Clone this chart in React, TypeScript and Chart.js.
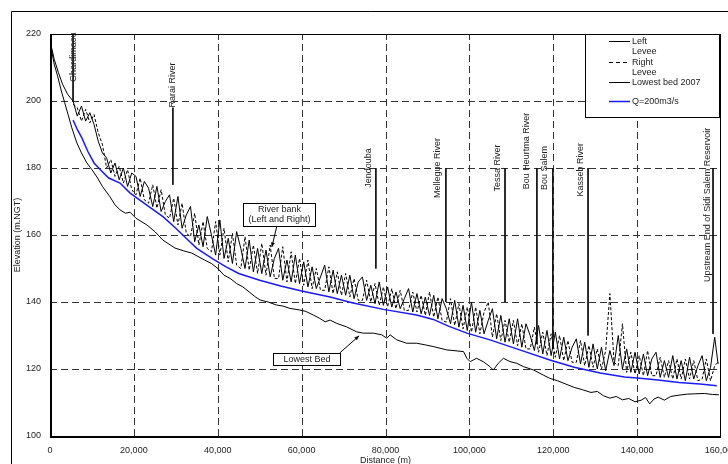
import React, { useEffect, useRef } from "react";
import { Chart, registerables } from "chart.js";

Chart.register(...registerables);

const FONT = '"Liberation Sans", Arial, sans-serif';

const xTicks = [0, 20000, 40000, 60000, 80000, 100000, 120000, 140000, 160000];
const yTicks = [100, 120, 140, 160, 180, 200, 220];

const bedDistance = [
  0, 400, 1000, 1800, 2700, 3500, 4300, 5200, 6400, 7500,
  8800, 10000, 11200, 12500, 14300, 15500, 16700, 18000, 19100, 20500,
  23100, 25000, 26900, 29800, 31800, 33800, 36900, 38500, 40000, 41500,
  43000, 44500, 46000, 47500, 49000, 50100, 52000, 54000, 55500, 57200,
  59600, 61000, 62800, 64200, 65600, 66800, 68400, 70700, 73100, 74700,
  77100, 79100, 80300, 81100, 82700, 85000, 87400, 89500, 91400, 94600,
  98600, 99400, 100200, 101700, 103300, 104900, 105700, 106900, 108100, 109700,
  111300, 112900, 115300, 117600, 119200, 121000, 123000, 125000, 127000, 129000,
  130500, 132000, 133500, 135000, 136500, 138000, 139500, 141000, 142000, 143000,
  144000, 145000, 146500, 148000, 150000, 152000, 154000, 156000, 158000, 159500,
];
const bedElevation = [
  218, 215, 211, 207.5, 203, 199.5, 196, 192, 187.5, 184.5,
  181.5, 179.5, 177.3, 174.5, 171.4, 169, 167.5, 166.5, 166.8, 165,
  163, 161, 158.5, 156.1, 155.3, 154.6, 152.5, 151.5, 150, 148,
  147, 145.5, 144.5, 143, 141.5, 140.6, 140, 139.1, 138.8, 138.1,
  137.6, 137.2, 136.1, 135.2, 134.1, 134.6, 133.6, 132.6, 131.1, 130.7,
  130.7, 130.2, 129.2, 130.2, 128.7, 127.7, 127.7, 127.2, 126.7, 125.7,
  125.2, 123.2, 122.2, 123.2, 122.2, 120.7, 119.7, 121.7, 123.2, 122.2,
  121.7, 120.7, 119.7, 118.2, 117.2, 116.5, 115.5, 114.5, 113.8, 113,
  113.3, 112, 111.3, 111.8, 110.8, 111.2, 110.2, 110.7, 111.5, 109.6,
  111, 111.6, 110.7, 111.8, 112.2, 112.5, 112.6, 112.7, 112.4, 112.3,
];

const upstreamLeveeDistance = [0, 1000, 2000, 3000, 4200];
const upstreamLeftLevee = [218, 212.5, 208.5, 205, 202];

const leveeDistance = [
  5500, 6500, 7500, 8500, 9500, 10500, 11500,
  12500, 13500, 14500, 15500, 16500, 17500, 18500, 19500,
  20500, 21500, 22500, 23500, 24500, 25500, 26500, 27500, 28500, 29500,
  30500, 31500, 32500, 33500, 34500, 35500, 36500, 37500, 38500, 39500,
  40500, 41500, 42500, 43500, 44500, 45500, 46500, 47500, 48500, 49500,
  50500, 51500, 52500, 53500, 54500, 55500, 56500, 57500, 58500, 59500,
  60500, 61500, 62500, 63500, 64500, 65500, 66500, 67500, 68500, 69500,
  70500, 71500, 72500, 73500, 74500, 75500, 76500, 77500, 78500, 79500,
  80500, 81500, 82500, 83500, 84500, 85500, 86500, 87500, 88500, 89500,
  90500, 91500, 92500, 93500, 94500, 95500, 96500, 97500, 98500, 99500,
  100500, 101500, 102500, 103500, 104500, 105500, 106500, 107500, 108500, 109500,
  110500, 111500, 112500, 113500, 114500, 115500, 116500, 117500, 118500, 119500,
  120500, 121500, 122500, 123500, 124500, 125500, 126500, 127500, 128500, 129500,
  130500, 131500, 132500, 133500, 134500, 135500, 136500, 137500, 138500, 139500,
  140500, 141500, 142500, 143500, 144500, 145500, 146500, 147500, 148500, 149500,
  150500, 151500, 152500, 153500, 154500, 155500, 156500, 157500, 158500, 159300,
];
const leftLevee = [
  200, 195.5, 198.5, 194, 196.5, 193, 188,
  184.5, 183, 178.5, 181.5, 176.5, 180, 174.5, 178.5,
  177.5, 171.5, 176, 174, 168.5, 174.5, 167, 170, 172, 164,
  171.5, 162, 166, 168.5, 158, 163, 156.5, 165.5, 160, 154,
  164.5, 153, 159, 151.5, 161, 156, 150, 158.5, 149, 156,
  148.5, 155.5, 147.5, 153, 156, 146.5, 152.5, 146, 154, 145.5,
  152, 144.5, 150.5, 144, 147.5, 151, 143, 149.5, 142.5, 148,
  142, 148, 141, 146, 147.5, 140.5, 145, 139.5, 146, 139,
  144.5, 138.5, 143, 138, 141, 144, 137, 142.5, 136.5, 141.5,
  136, 142, 135, 141, 138, 133.5, 140.5, 132.5, 139, 131.5,
  140, 131, 137.5, 130.5, 134.5, 138, 129, 136, 128, 135,
  127.5, 135, 126.5, 133.5, 130, 125.5, 133, 124.5, 131.5, 124,
  131, 123, 129.5, 122.5, 126.5, 129, 121.5, 128, 120.5, 127.5,
  120, 126.5, 119.5, 125.5, 121, 130, 120, 126, 119, 125,
  118.5, 124.5, 118, 123, 125, 117.5, 122.5, 117.5, 124, 117,
  122.5, 116.5, 123.5, 117, 121, 124, 116.5, 120.5, 129.5, 121.5,
];
const rightLevee = [
  199, 198, 194, 197.5, 193.5, 196, 190.5,
  187, 180, 182.5, 177.5, 180.5, 175.5, 179.5, 173.5,
  172, 177, 170.5, 169.5, 175, 168, 173.5, 166, 165, 171,
  163, 169.5, 160.5, 159.5, 166.5, 157, 164, 156, 155, 164,
  154, 162, 152, 160.5, 151, 150, 159.5, 149.5, 157, 148.5,
  157.5, 148, 157, 147, 147, 156.5, 146, 155, 145.5, 153,
  145, 152.5, 144, 150, 143.5, 143.5, 150.5, 142.5, 149, 142,
  148.5, 141.5, 147, 140.5, 140.5, 146.5, 140, 145.5, 139, 144.5,
  138.5, 144, 138, 143.5, 137.5, 137.5, 143, 137, 142, 136,
  143, 135.5, 141.5, 134.5, 134, 141, 133, 139.5, 132, 138.5,
  131, 138.5, 130.5, 137, 140, 129.5, 136.5, 128.5, 134.5, 128,
  134.5, 127, 133.5, 126, 126, 132.5, 125, 131, 124, 130.5,
  123.5, 130, 122.5, 128.5, 122, 122, 128.5, 121, 127, 120.5,
  126, 120, 125.5, 142.5, 122, 121, 133.5, 119, 125, 118.5,
  124, 118, 125.5, 118, 118, 123.5, 117.5, 122.5, 117, 123,
  117, 123, 117, 122.5, 116.5, 117, 123, 116.5, 121, 122,
];

const flowDistance = [
  5500, 6500, 7600, 9000, 10500, 12000, 14000, 16700, 19100, 23000,
  27000, 30000, 32900, 35000, 38900, 42000, 45000, 50000, 55000, 60000,
  66800, 72000, 79500, 87400, 91400, 95000, 99400, 104900, 112000, 119200,
  121600, 125000, 131200, 137000, 140000, 145000, 150000, 155000, 159000,
];
const flowElevation = [
  194.3, 191.5, 189, 185, 181.5, 179.5, 177, 175.5, 172.5, 169,
  165.4, 162, 158.5, 156, 152.8, 150.5, 148.5, 146.5, 144.8, 143.3,
  141.5, 139.8, 137.8, 136.1, 134.8, 132.8, 130.7, 128.7, 125.7, 122.7,
  121.8, 120.5, 118.8, 117.6, 117.3, 116.7, 116, 115.5, 115,
];

const placeNames = [
  "Ghardimaou", "Rarai River", "Jendouba", "Mellegue River", "Tessa River",
  "Bou Heurtma River", "Bou Salem", "Kasseb River", "Upstream End of Sidi Salem Reservoir",
];
const placeDistance = [5500, 29300, 77700, 94400, 108500, 116100, 119900, 128300, 158100];
const placeLineTop = [220, 198, 180, 180, 180, 180, 180, 180, 180];
const placeLineBottom = [200, 175, 150, 140, 140, 127.5, 126, 130, 130.5];
const placeLabelDistance = [5500, 29300, 76000, 92300, 106600, 113700, 118000, 126600, 156700];
const placeLabelElevation = [213.1, 204.8, 180, 180, 180, 185.1, 180, 179.5, 169];

const calloutLines = [["River bank", "(Left and Right)"], ["Lowest Bed"]];
const calloutLeft = [46000, 53200];
const calloutRight = [63200, 69100];
const calloutTop = [169.6, 124.8];
const calloutBottom = [162.7, 121.2];
const arrowFromX = [54100, 69100];
const arrowFromY = [162.7, 124.8];
const arrowToX = [52900, 73700];
const arrowToY = [156.4, 129.9];

const pts = (xs: number[], ys: number[]) => xs.map((x, i) => ({ x, y: ys[i] }));

const drawArrow = (ctx: CanvasRenderingContext2D, x1: number, y1: number, x2: number, y2: number) => {
  ctx.beginPath();
  ctx.moveTo(x1, y1);
  ctx.lineTo(x2, y2);
  ctx.stroke();
  const ang = Math.atan2(y2 - y1, x2 - x1);
  const len = 5;
  ctx.beginPath();
  ctx.moveTo(x2, y2);
  ctx.lineTo(x2 - len * Math.cos(ang - 0.4), y2 - len * Math.sin(ang - 0.4));
  ctx.lineTo(x2 - len * Math.cos(ang + 0.4), y2 - len * Math.sin(ang + 0.4));
  ctx.closePath();
  ctx.fill();
};

const decorPlugin = {
  id: "decor",
  beforeDraw(chart: any) {
    const { ctx, width, height } = chart;
    ctx.save();
    ctx.fillStyle = "#fff";
    ctx.fillRect(0, 0, width, height);
    ctx.strokeStyle = "#000";
    ctx.lineWidth = 1;
    ctx.beginPath();
    ctx.moveTo(11.5, height + 5);
    ctx.lineTo(11.5, 11.5);
    ctx.lineTo(width + 5, 11.5);
    ctx.stroke();
    ctx.restore();
  },
  beforeDatasetsDraw(chart: any) {
    const { ctx, chartArea: a, scales } = chart;
    const xs = scales.x;
    const ys = scales.y;
    ctx.save();
    ctx.strokeStyle = "#333";
    ctx.lineWidth = 1;
    ctx.setLineDash([7, 4]);
    xTicks.slice(1, -1).forEach((v) => {
      const px = Math.round(xs.getPixelForValue(v)) + 0.5;
      ctx.beginPath();
      ctx.moveTo(px, a.bottom);
      ctx.lineTo(px, a.top);
      ctx.stroke();
    });
    yTicks.slice(1, -1).forEach((v) => {
      const py = Math.round(ys.getPixelForValue(v)) + 0.5;
      ctx.beginPath();
      ctx.moveTo(a.left, py);
      ctx.lineTo(a.right, py);
      ctx.stroke();
    });
    ctx.restore();
  },
  afterDatasetsDraw(chart: any) {
    const { ctx, chartArea: a, scales } = chart;
    const xs = scales.x;
    const ys = scales.y;
    ctx.save();
    ctx.font = `9px ${FONT}`;
    ctx.fillStyle = "#222";
    ctx.textAlign = "center";
    ctx.textBaseline = "middle";
    placeNames.forEach((name, i) => {
      const px = xs.getPixelForValue(placeLabelDistance[i]);
      const py = ys.getPixelForValue(placeLabelElevation[i]);
      ctx.save();
      ctx.translate(px, py);
      ctx.rotate(-Math.PI / 2);
      ctx.fillText(name, 0, 0);
      ctx.restore();
    });
    ctx.strokeStyle = "#000";
    ctx.fillStyle = "#000";
    ctx.lineWidth = 1;
    calloutLines.forEach((lines, i) => {
      const l = Math.round(xs.getPixelForValue(calloutLeft[i])) + 0.5;
      const r = Math.round(xs.getPixelForValue(calloutRight[i])) + 0.5;
      const t = Math.round(ys.getPixelForValue(calloutTop[i])) + 0.5;
      const b = Math.round(ys.getPixelForValue(calloutBottom[i])) + 0.5;
      ctx.fillStyle = "#fff";
      ctx.fillRect(l, t, r - l, b - t);
      ctx.strokeRect(l, t, r - l, b - t);
      ctx.fillStyle = "#222";
      const cy = (t + b) / 2;
      lines.forEach((s, k) => {
        ctx.fillText(s, (l + r) / 2, cy + (k - (lines.length - 1) / 2) * 10);
      });
      ctx.fillStyle = "#000";
      drawArrow(
        ctx,
        xs.getPixelForValue(arrowFromX[i]),
        ys.getPixelForValue(arrowFromY[i]),
        xs.getPixelForValue(arrowToX[i]),
        ys.getPixelForValue(arrowToY[i])
      );
    });
    const lx = a.right - 136;
    const ly = a.top;
    ctx.fillStyle = "#fff";
    ctx.fillRect(lx + 0.5, ly + 0.5, 134, 83);
    ctx.strokeStyle = "#000";
    ctx.strokeRect(lx + 0.5, ly + 0.5, 134, 83);
    const sx1 = lx + 24;
    const sx2 = lx + 45;
    const tx = lx + 47;
    const rows: [number, string, number[], string[]][] = [
      [7, "#000", [], ["Left", "Levee"]],
      [28, "#000", [4, 3], ["Right", "Levee"]],
      [48, "#000", [], ["Lowest bed 2007"]],
      [67, "#1a1aff", [], ["Q=200m3/s"]],
    ];
    ctx.textAlign = "left";
    rows.forEach(([dy, col, dash, txt], i) => {
      ctx.strokeStyle = col;
      ctx.lineWidth = i === 3 ? 1.5 : 1;
      ctx.setLineDash(dash);
      ctx.beginPath();
      ctx.moveTo(sx1, ly + dy + 0.5);
      ctx.lineTo(sx2, ly + dy + 0.5);
      ctx.stroke();
      ctx.setLineDash([]);
      ctx.fillStyle = "#222";
      txt.forEach((s, k) => ctx.fillText(s, tx, ly + dy + 1 + k * 10));
    });
    ctx.strokeStyle = "#000";
    ctx.lineWidth = 1;
    ctx.strokeRect(a.left + 0.5, a.top + 0.5, a.right - a.left - 1, a.bottom - a.top);
    ctx.lineWidth = 2;
    ctx.beginPath();
    ctx.moveTo(a.left + 1, a.top);
    ctx.lineTo(a.left + 1, a.bottom + 1);
    ctx.lineTo(a.right, a.bottom + 1);
    ctx.stroke();
    ctx.fillStyle = "#222";
    ctx.textAlign = "center";
    ctx.textBaseline = "middle";
    ctx.fillText("Distance (m)", (a.left + a.right) / 2, 461);
    ctx.save();
    ctx.translate(18, (a.top + a.bottom) / 2);
    ctx.rotate(-Math.PI / 2);
    ctx.fillText("Elevation (m.NGT)", 0, 0);
    ctx.restore();
    ctx.restore();
  },
};

export default function App() {
  const ref = useRef<HTMLCanvasElement>(null);
  useEffect(() => {
    if (!ref.current) return;
    const line = (data: any[], color: string, width: number, dash: number[] = []) => ({
      data,
      borderColor: color,
      borderWidth: width,
      borderDash: dash,
      pointRadius: 0,
      fill: false,
      tension: 0,
    });
    const datasets: any[] = [
      line(pts(bedDistance, bedElevation), "#000", 1),
      line(pts(leveeDistance, rightLevee), "#000", 1, [3, 2]),
      line([...pts(upstreamLeveeDistance, upstreamLeftLevee), ...pts(leveeDistance, leftLevee)], "#000", 1),
      line(pts(flowDistance, flowElevation), "#1a1aff", 1.5),
    ];
    placeDistance.forEach((d, i) => {
      datasets.push(line([{ x: d, y: placeLineTop[i] }, { x: d, y: placeLineBottom[i] }], "#111", 1));
    });
    const chart = new Chart(ref.current, {
      type: "line",
      data: { datasets },
      plugins: [decorPlugin],
      options: {
        animation: false,
        responsive: false,
        devicePixelRatio: 1,
        layout: { padding: { left: 0, top: 34, right: 7, bottom: 0 } },
        plugins: { legend: { display: false }, tooltip: { enabled: false } },
        scales: {
          x: {
            type: "linear",
            min: 0,
            max: 160000,
            afterBuildTicks: (s: any) => {
              s.ticks = xTicks.map((v) => ({ value: v }));
            },
            afterFit: (s: any) => {
              s.height = 28;
              s.paddingLeft = 0;
              s.paddingRight = 0;
            },
            ticks: {
              autoSkip: false,
              maxRotation: 0,
              minRotation: 0,
              padding: 9,
              color: "#222",
              font: { family: FONT, size: 9 },
              callback: (v: any) => Number(v).toLocaleString("en-US"),
            },
            grid: { display: false, drawTicks: false },
            border: { display: false },
          },
          y: {
            type: "linear",
            min: 100,
            max: 220,
            afterBuildTicks: (s: any) => {
              s.ticks = yTicks.map((v) => ({ value: v }));
            },
            afterFit: (s: any) => {
              s.width = 50;
              s.paddingTop = 0;
              s.paddingBottom = 0;
            },
            ticks: {
              padding: 9,
              color: "#222",
              font: { family: FONT, size: 9 },
              callback: (v: any) => String(v),
            },
            grid: { display: false, drawTicks: false },
            border: { display: false },
          },
        },
      },
    });
    return () => chart.destroy();
  }, []);
  return (
    <div style={{ position: "fixed", left: 0, top: 0, width: 728, height: 464, overflow: "hidden", background: "#fff" }}>
      <canvas ref={ref} width={728} height={464} style={{ display: "block", width: 728, height: 464 }} />
    </div>
  );
}
